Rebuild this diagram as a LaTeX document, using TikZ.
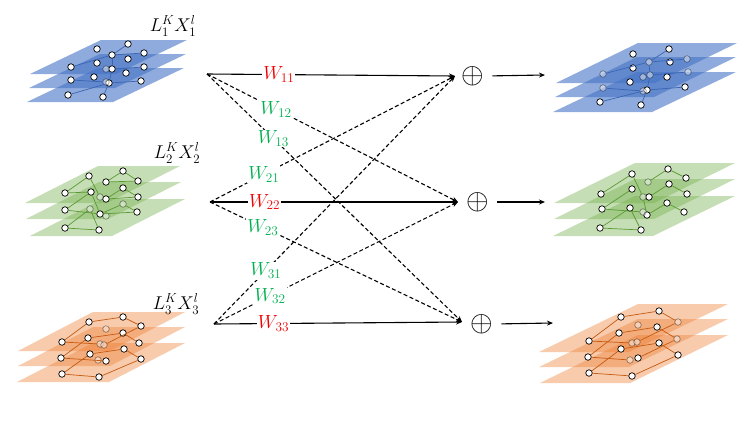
\RequirePackage{fix-cm}
\documentclass[tikz,border=0pt]{standalone}
\usetikzlibrary{arrows.meta}
\definecolor{pblue}{HTML}{4472C4}
\definecolor{pgreen}{HTML}{70AD47}
\definecolor{porange}{HTML}{ED7D31}
\definecolor{eblue}{HTML}{3A64B4}
\definecolor{egreen}{HTML}{5A9A32}
\definecolor{eorange}{HTML}{C55A11}
\definecolor{wred}{HTML}{F00000}
\definecolor{wgreen}{HTML}{00B050}
\newcommand{\myplane}[6]{\fill[#6] (#1,#2) -- ++(#3,0) -- ++(#4,-#5) -- ++(-#3,0) -- cycle;}
\tikzset{
  gn/.style={circle, draw=black, fill=white, line width=0.7pt, minimum size=6.5pt, inner sep=0pt},
  gf/.style={gn, draw opacity=0.4, fill opacity=0.45},
  lbl/.style={fill=white, inner sep=1pt, font=\fontsize{19}{21}\selectfont},
  wr/.style={lbl, text=wred},
  wg/.style={lbl, text=wgreen},
  stacklbl/.style={inner sep=0pt, font=\fontsize{18.5}{20}\selectfont},
  conn/.style={line width=1.1pt, -{Stealth[length=6pt,width=5pt]}},
  dconn/.style={conn, dash pattern=on 4pt off 2.5pt},
  oplusnode/.style={inner sep=0pt, font=\fontsize{29}{31}\selectfont},
  bplane/.style={fill=pblue, fill opacity=0.6},
  gplane/.style={fill=pgreen, fill opacity=0.4},
  oplane/.style={fill=porange, fill opacity=0.4},
}
\begin{document}
\begin{tikzpicture}[x=1pt,y=-1pt]
\useasboundingbox (0,0) rectangle (747,421);

% ---------------- planes ----------------
% blue left
\myplane{27}{102}{86}{71}{34}{bplane}
\myplane{29}{88}{86}{71}{34}{bplane}
\myplane{30}{74}{86}{71}{34}{bplane}
% green left
\myplane{30}{236}{82}{73}{37}{gplane}
\myplane{26}{219}{82}{73}{37}{gplane}
\myplane{25}{203}{82}{73}{37}{gplane}
% orange left
\myplane{17}{382}{92}{76}{39}{oplane}
\myplane{18}{366}{92}{75}{39}{oplane}
\myplane{18}{351}{92}{75}{39}{oplane}
% blue right
\myplane{553}{112}{99}{84}{40}{bplane}
\myplane{555}{97}{99}{82}{40}{bplane}
\myplane{556}{83}{99}{82}{40}{bplane}
% green right
\myplane{553}{236}{100}{82}{40}{gplane}
\myplane{554}{219}{100}{81}{40}{gplane}
\myplane{554}{203}{100}{81}{40}{gplane}
% orange right
\myplane{540}{383}{90}{98}{48}{oplane}
\myplane{539}{367}{90}{99}{48}{oplane}
\myplane{539}{352}{90}{99}{48}{oplane}

% ---------------- graph nodes ----------------
% blue left
\foreach \n/\x/\y in {1/97/49,2/128/44,3/112/55,4/144/53,5/71/67,6/97/63,7/128/59,9/112/69,10/144/67,11/71/80,12/94/77,13/126/73,15/109/83,16/141/81,17/68/95,18/103/97}
  \node[gn] (bl\n) at (\x,\y) {};
\foreach \n/\x/\y in {8/106/69,14/106/82}
  \node[gf] (bl\n) at (\x,\y) {};
% blue right
\foreach \n/\x/\y in {1/633/54,2/669/49,4/670/62,7/633/68,10/667/77,13/630/82,15/647/90,16/685/87,17/600/102,18/641/105}
  \node[gn] (br\n) at (\x,\y) {};
\foreach \n/\x/\y in {3/649/62,5/687/59,6/603/74,8/643/77,9/650/75,11/688/72,12/603/88,14/643/91}
  \node[gf] (br\n) at (\x,\y) {};
% green left
\foreach \n/\x/\y in {1/89/176,2/123/171,3/106/182,4/138/181,5/65/193,6/91/192,8/106/199,9/123/188,10/138/197,11/65/210,13/100/214,16/137/212,17/65/228,18/99/230}
  \node[gn] (gl\n) at (\x,\y) {};
\foreach \n/\x/\y in {7/100/197,12/90/209,14/106/216,15/123/204}
  \node[gf] (gl\n) at (\x,\y) {};
% green right
\foreach \n/\x/\y in {1/632/174,2/668/169,4/686/178,5/601/194,6/632/189,8/649/197,9/669/184,10/687/194,11/602/209,12/630/208,14/647/215,15/667/203,16/684/212,17/600/228,18/641/230}
  \node[gn] (gr\n) at (\x,\y) {};
\foreach \n/\x/\y in {3/648/182,7/643/197,13/643/212}
  \node[gf] (gr\n) at (\x,\y) {};
% orange left
\foreach \n/\x/\y in {1/89/322,2/123/317,4/141/326,5/62/342,6/88/338,9/123/333,10/139/343,11/61/358,12/90/354,14/106/361,15/124/349,16/141/359,17/62/374,18/99/377}
  \node[gn] (ol\n) at (\x,\y) {};
\foreach \n/\x/\y in {3/106/329,7/100/344,8/104/345,13/98/360}
  \node[gf] (ol\n) at (\x,\y) {};
% orange right
\foreach \n/\x/\y in {1/621/317,2/659/311,5/589/341,6/619/333,9/657/327,11/588/357,12/621/349,14/638/358,15/659/343,16/678/355,17/589/373,18/632/376}
  \node[gn] (or\n) at (\x,\y) {};
\foreach \n/\x/\y in {3/638/325,4/678/322,7/632/343,8/637/342,10/677/339,13/630/360}
  \node[gf] (or\n) at (\x,\y) {};

% ---------------- graph edges ----------------
\begin{scope}[line width=0.7pt]
\foreach \a/\b in {2/3,3/4,5/3,3/9,9/15,15/18,9/10,11/14,15/16,17/15}
  \draw[eblue] (bl\a) -- (bl\b);
\foreach \a/\b in {2/3,3/5,6/3,3/9,9/11,9/15,12/14,15/16,17/15,15/18}
  \draw[eblue] (br\a) -- (br\b);
\foreach \a/\b in {1/5,5/6,1/7,7/8,2/3,2/4,3/4,6/11,11/13,6/13,8/9,9/10,8/10,13/15,15/16,13/16,17/18,17/12,12/18}
  \draw[egreen] (gl\a) -- (gl\b);
\foreach \a/\b in {1/5,1/7,7/14,3/2,2/4,6/11,8/9,9/10,11/13,12/17,17/18,12/18,14/15,15/16}
  \draw[egreen] (gr\a) -- (gr\b);
\foreach \a/\b in {5/1,1/2,2/4,4/8,5/7,11/6,6/9,9/10,11/14,17/12,12/15,15/16,16/18,17/18}
  \draw[eorange] (ol\a) -- (ol\b);
\foreach \a/\b in {5/1,1/2,2/4,4/8,5/7,11/6,6/9,9/10,10/14,11/13,17/12,12/15,15/16,16/18,17/18}
  \draw[eorange] (or\a) -- (or\b);
\end{scope}

% ---------------- labels of stacks ----------------
\node[stacklbl] (lab1) at (173,26) {$L_1^K X_1^l$};
\node[stacklbl] (lab2) at (177,153) {$L_2^K X_2^l$};
\node[stacklbl] (lab3) at (176,304) {$L_3^K X_3^l$};

% ---------------- connectors ----------------
\coordinate (s1) at (207,74);
\coordinate (s2) at (210,202);
\coordinate (s3) at (214,324);
\coordinate (t1) at (455,76);
\coordinate (t2) at (458,202);
\coordinate (t3) at (462,322);
\node[oplusnode] (p1) at (473,76) {$\oplus$};
\node[oplusnode] (p2) at (478,202) {$\oplus$};
\node[oplusnode] (p3) at (482,324) {$\oplus$};
\coordinate (r1) at (545,75);
\coordinate (r2) at (545,202);
\coordinate (r3) at (553,323);

\draw[dconn] (s1) -- node[wg,pos=0.275] {$W_{12}$} (t2);
\draw[dconn] (s1) -- node[wg,pos=0.26] {$W_{13}$} (t3);
\draw[dconn] (s2) -- node[wg,pos=0.22] {$W_{21}$} (t1);
\draw[dconn] (s2) -- node[wg,pos=0.21] {$W_{23}$} (t3);
\draw[dconn] (s3) -- node[wg,pos=0.215] {$W_{31}$} (t1);
\draw[dconn] (s3) -- node[wg,pos=0.23] {$W_{32}$} (t2);
\draw[conn] (s1) -- node[wr,pos=0.29] {$W_{11}$} (t1);
\draw[conn] (s2) -- node[wr,pos=0.22] {$W_{22}$} (t2);
\draw[conn] (s3) -- node[wr,pos=0.24] {$W_{33}$} (t3);

\draw[conn, shorten <=8pt] (p1.east) -- (r1);
\draw[conn, shorten <=8pt] (p2.east) -- (r2);
\draw[conn, shorten <=8pt] (p3.east) -- (r3);
\end{tikzpicture}
\end{document}
